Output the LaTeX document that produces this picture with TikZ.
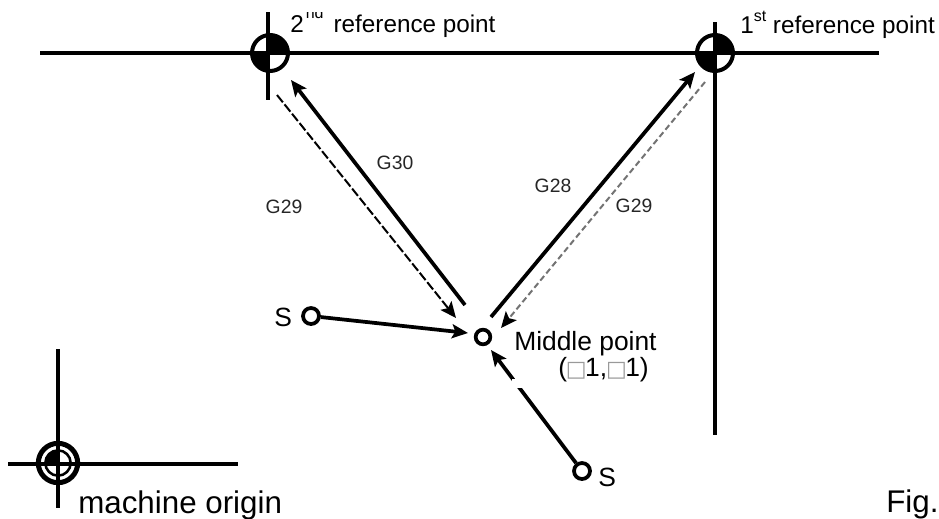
\documentclass[tikz,border=0pt]{standalone}
\usepackage{fontspec}
\setmainfont{Liberation Sans}
\newfontfamily\boxfont{DejaVu Sans}
\usetikzlibrary{arrows.meta}
\newcommand{\gbox}{{\boxfont\fontsize{16.5}{17}\selectfont\kern-0.8pt\color{gray!80}\char"25A1\kern-1.2pt}}
\newcommand{\supr}[2]{\raisebox{#1}{\fontsize{12}{12}\selectfont #2}}
\tikzset{
  x=0.75pt,y=0.75pt,
  axisline/.style={line width=2.6pt,black},
  refmark/.style={circle,draw=black,line width=3pt,fill=white,minimum size=27pt,inner sep=0pt,
    path picture={
      \fill[black] (path picture bounding box.center) rectangle (path picture bounding box.north east);
      \fill[black] (path picture bounding box.center) rectangle (path picture bounding box.south west);
    }},
  orgouter/.style={circle,draw=black,line width=3.75pt,fill=white,minimum size=29.5pt,inner sep=0pt},
  orginner/.style={circle,draw=black,line width=1.9pt,fill=white,minimum size=19pt,inner sep=0pt,
    path picture={
      \fill[black] (path picture bounding box.center) rectangle (path picture bounding box.north west);
    }},
  smallmark/.style={circle,draw=black,line width=2.8pt,fill=white,minimum size=11pt,inner sep=0pt},
  move/.style={line width=2.8pt,black,-{Stealth[length=12pt,width=10.5pt,inset=2.5pt]}},
  backa/.style={line width=1.5pt,black,dash pattern=on 7pt off 2pt,-{Stealth[length=12pt,width=10.5pt,inset=2.5pt]}},
  backb/.style={line width=1.5pt,black!55,dash pattern=on 4.5pt off 2.5pt,-{Stealth[length=12pt,width=10.5pt,inset=2.5pt,black]}},
  lab/.style={anchor=base west,inner sep=0pt,font=\fontsize{18.2}{20}\selectfont},
  biglab/.style={anchor=base west,inner sep=0pt,font=\fontsize{23.5}{26}\selectfont},
  midlab/.style={anchor=base west,inner sep=0pt,font=\fontsize{19.8}{22}\selectfont},
  glab/.style={anchor=center,inner sep=0pt,text=black!85,font=\fontsize{14.5}{16}\selectfont},
}
\begin{document}
\begin{tikzpicture}
\useasboundingbox (0,0) rectangle (939,-518);
% marks
\node[refmark] (ref2) at (270,-53) {};
\node[refmark] (ref1) at (715,-53) {};
% origin mark
\node[orgouter] (orgout) at (58,-463) {};
\node[orginner] (orgin) at (58,-463) {};
% axes
\coordinate (hL) at (40,-53);
\coordinate (hR) at (879,-53);
\coordinate (v2T) at (268,-12);
\coordinate (v2B) at (268,-100);
\coordinate (v1T) at (715,-22);
\coordinate (v1B) at (715,-435);
\coordinate (oL) at (8,-464);
\coordinate (oR) at (238,-464);
\coordinate (oT) at (58,-349);
\coordinate (oB) at (58,-508);
\draw[axisline] (hL) -- (hR);
\draw[axisline] (v2T) -- (v2B);
\draw[axisline] (v1T) -- (v1B);
\draw[axisline] (oL) -- (oR);
\draw[axisline] (oT) -- (oB);
% points
\node[smallmark] (mid) at (483,-337) {};
\node[smallmark,minimum size=12pt] (s1) at (311,-316) {};
\node[smallmark,minimum size=12pt] (s2) at (582,-471) {};
% arrow ends
\coordinate (g30a) at (465,-305);
\coordinate (g30b) at (291,-80);
\coordinate (g29a) at (277,-95);
\coordinate (g29b) at (456,-318);
\coordinate (g28a) at (491,-317);
\coordinate (g28b) at (695,-72);
\coordinate (g29c) at (705,-82);
\coordinate (g29d) at (501,-328);
\coordinate (s1t) at (468,-333);
\coordinate (s2t) at (491,-350);
\draw[move] (g30a) -- (g30b);
\draw[backa] (g29a) -- (g29b);
\draw[move] (g28a) -- (g28b);
\draw[backb] (g29c) -- (g29d);
\draw[move] (s1) -- (s1t);
\draw[move] (s2) -- (s2t);
% white label box that interrupts the arrow
\fill[white] (512,-379) rectangle (650,-388);
% labels
\node[lab] (t2) at (290,-32) {2\kern1.5pt\supr{10.5pt}{nd}\kern2.5pt{} reference point};
\node[lab] (t1) at (740,-33) {1\supr{9pt}{st} reference point};
\fill[white] (300,0) rectangle (335,-11.5);
\node[midlab] (tm) at (514,-350) {Middle point};
\node[midlab] (tc) at (558,-376) {(\gbox1,\gbox1)};
\node[midlab] (ts1) at (274,-326) {S};
\node[midlab] (ts2) at (598,-486) {S};
\node[biglab] (to) at (78,-513) {machine origin};
\node[biglab] (tf) at (886,-512) {Fig.};
\node[glab] (g30) at (395,-163) {G30};
\node[glab] (g29l) at (284,-207) {G29};
\node[glab] (g28) at (553,-186) {G28};
\node[glab] (g29r) at (634,-206) {G29};
\end{tikzpicture}
\end{document}
